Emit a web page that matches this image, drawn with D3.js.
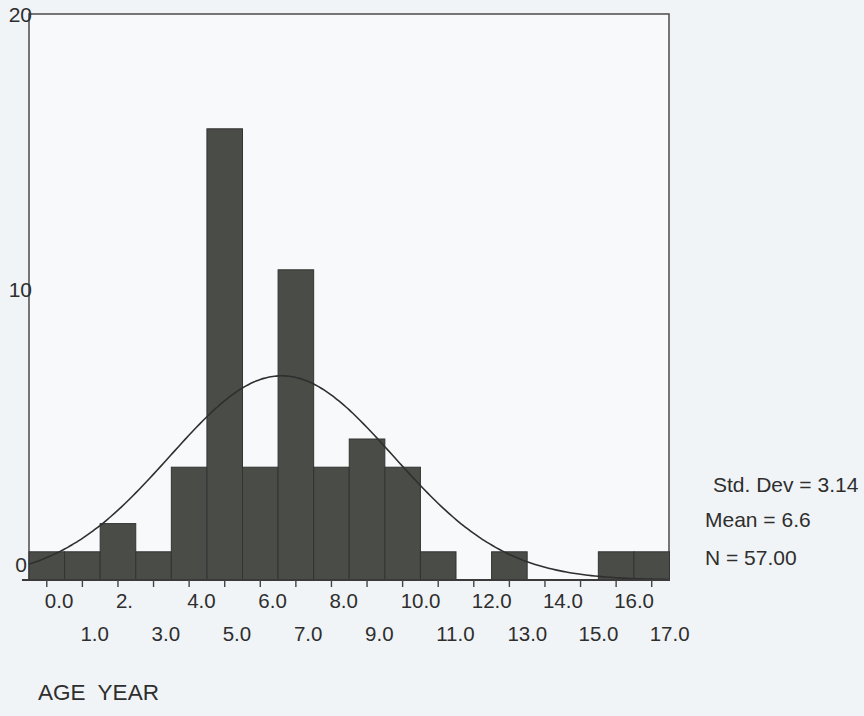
<!DOCTYPE html>
<html>
<head>
<meta charset="utf-8">
<script src="https://cdn.jsdelivr.net/npm/d3@7"></script>
<style>
  html, body { margin: 0; padding: 0; background: #f1f4f6; }
  #age_hist { width: 864px; height: 716px; }
  text { font-family: "Liberation Sans", Arial, sans-serif; fill: #2e2e2e; }
</style>
</head>
<body>
<div id="age_hist"></div>
<script>
// ages (bin centres) and how many people fall in each
var ages = [0, 1, 2, 3, 4, 5, 6, 7, 8, 9, 10, 11, 12, 13, 14, 15, 16, 17];
var counts = [1, 1, 2, 1, 4, 16, 4, 11, 4, 5, 4, 1, 0, 1, 0, 0, 1, 1];
var ageLabels = ["0.0", "1.0", "2.", "3.0", "4.0", "5.0", "6.0", "7.0", "8.0",
                 "9.0", "10.0", "11.0", "12.0", "13.0", "14.0", "15.0", "16.0", "17.0"];
var countTicks = [0, 10, 20];
var statLines = ["Std. Dev = 3.14", "Mean = 6.6", "N = 57.00"];
var stdDev = 3.14, mean = 6.6, nCases = 57;
var axisTitle = "AGE  YEAR";

function render_age_hist() {
  var svg = d3.select('#age_hist').append('svg')
      .attr('width', 864)
      .attr('height', 716);

  var x = d3.scaleLinear().domain([-0.5, 17.5]).range([29, 669.5]);
  var y = d3.scaleLinear().domain([0, 20]).range([580, 16]);
  var bw = x(1) - x(0);

  // plot frame
  svg.append('rect')
    .attr('x', 29).attr('y', 14)
    .attr('width', 640).attr('height', 566)
    .attr('fill', '#f8f9fa')
    .attr('stroke', '#555')
    .attr('stroke-width', 1.6);

  // bars
  svg.append('g')
    .selectAll('rect')
    .data(ages)
    .enter()
    .append('rect')
      .attr('x', function(d) { return x(d - 0.5); })
      .attr('width', bw)
      .attr('y', function(d, i) { return y(counts[i]); })
      .attr('height', function(d, i) { return y(0) - y(counts[i]); })
      .attr('fill', '#4a4c47')
      .attr('stroke', '#333')
      .attr('stroke-width', 1)
      .style('display', function(d, i) { return counts[i] > 0 ? null : 'none'; });

  // normal curve from the reported mean / std. dev
  var curvePts = d3.range(-0.5, 17.51, 0.1).map(function(v) {
    var z = (v - mean) / stdDev;
    return [v, nCases / (stdDev * Math.sqrt(2 * Math.PI)) * Math.exp(-0.5 * z * z)];
  });
  svg.append('path')
    .datum(curvePts)
    .attr('fill', 'none')
    .attr('stroke', '#2f2f2f')
    .attr('stroke-width', 1.6)
    .attr('d', d3.line()
      .x(function(d) { return x(d[0]); })
      .y(function(d) { return y(d[1]); })
      .curve(d3.curveBasis));

  // bottom axis line + ticks
  svg.append('line')
    .attr('x1', 22).attr('x2', 670)
    .attr('y1', y(0)).attr('y2', y(0))
    .attr('stroke', '#3a3a3a').attr('stroke-width', 2.2);

  svg.append('g')
    .selectAll('line')
    .data(ages)
    .enter()
    .append('line')
      .attr('x1', function(d) { return x(d); })
      .attr('x2', function(d) { return x(d); })
      .attr('y1', y(0)).attr('y2', y(0) + 7)
      .attr('stroke', '#444').attr('stroke-width', 1.4);

  // staggered tick labels
  svg.append('g')
    .selectAll('text')
    .data(ages)
    .enter()
    .append('text')
      .attr('x', function(d) { return x(d) - 2; })
      .attr('y', function(d, i) { return i % 2 === 0 ? 608 : 641; })
      .style('font-size', '20.5px')
      .text(function(d, i) { return ageLabels[i]; });

  // count labels on the left
  svg.append('g')
    .selectAll('text')
    .data(countTicks)
    .enter()
    .append('text')
      .attr('x', function(d) { return d === 0 ? 27 : 32; })
      .attr('y', function(d) { return y(d) + 6 - (20 - d) * 0.7; })
      .attr('text-anchor', 'end')
      .style('font-size', '21px')
      .text(function(d) { return d; });

  // summary statistics
  svg.append('g')
    .selectAll('text')
    .data(statLines)
    .enter()
    .append('text')
      .attr('x', function(d, i) { return i === 0 ? 713 : 705; })
      .attr('y', function(d, i) { return [492, 527, 565][i]; })
      .style('font-size', '21px')
      .text(function(d) { return d; });

  svg.append('text')
    .attr('x', 38)
    .attr('y', 700)
    .style('font-size', '22.5px')
    .style('white-space', 'pre')
    .attr('xml:space', 'preserve')
    .text(axisTitle);
}

render_age_hist();
</script>
</body>
</html>
